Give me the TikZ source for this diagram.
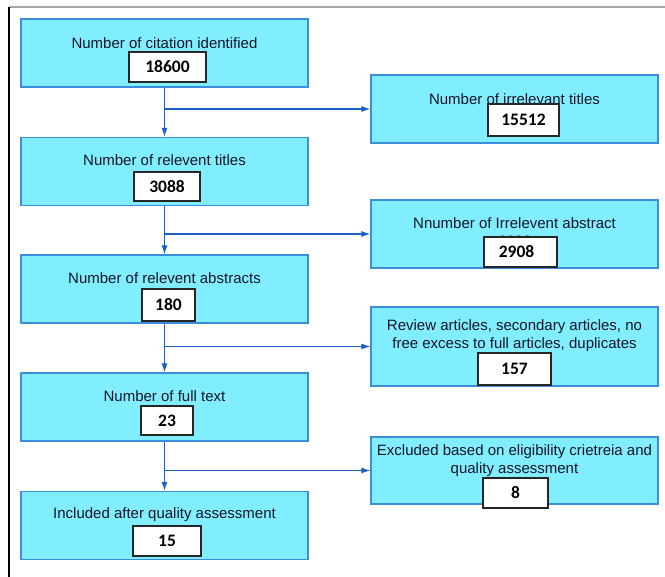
\documentclass[tikz,border=0pt]{standalone}
\usepackage{fontspec}
\setmainfont{Liberation Sans}
\newfontfamily\numfont{Carlito}
\usetikzlibrary{arrows.meta}
\definecolor{boxfill}{HTML}{80EEFF}
\definecolor{boxline}{HTML}{3C8EDC}
\definecolor{arrline}{HTML}{1A5FC8}
\definecolor{txt}{HTML}{15152A}
\tikzset{
  mainbox/.style={draw=boxline, fill=boxfill, line width=1.3pt, minimum width=287pt, minimum height=68pt, inner sep=0pt},
  lbl/.style={font=\fontsize{15}{17.5}\selectfont, text=txt, inner sep=0pt, align=center},
  numbox/.style={draw=black!85, fill=white, line width=1.3pt, inner sep=0pt, font=\numfont\bfseries\fontsize{17.5}{18}\selectfont, text=black},
  arr/.style={draw=arrline, line width=1.1pt, -{Latex[length=9pt,width=6pt]}}
}
\begin{document}
\begin{tikzpicture}[x=1pt,y=-1pt]
\useasboundingbox (0,0) rectangle (665,577);
\draw[gray!70, line width=1.2pt] (9,7) -- (665,7);
\draw[black, line width=1.2pt] (9,7) -- (9,577);
% left column
\node[mainbox] (b1) at (164.5,53) {};
\node[lbl] (t1) at (164.5,43) {Number of citation identified};
\node[numbox, minimum width=77pt, minimum height=30pt] (n1) at (167.5,67) {18600};
\node[mainbox] (b2) at (164.5,171.5) {};
\node[lbl] (t2) at (164.5,160) {Number of relevent titles};
\node[numbox, minimum width=66pt, minimum height=29pt] (n2) at (167,186.5) {3088};
\node[mainbox] (b3) at (164.5,289) {};
\node[lbl] (t3) at (164.5,278) {Number of relevent abstracts};
\node[numbox, minimum width=53pt, minimum height=32pt] (n3) at (168.5,305) {180};
\node[mainbox] (b4) at (164.5,407) {};
\node[lbl] (t4) at (164.5,396) {Number of full text};
\node[numbox, minimum width=52pt, minimum height=29pt] (n4) at (167,420.5) {23};
\node[mainbox] (b5) at (164.5,525.5) {};
\node[lbl] (t5) at (164.5,515) {Included after quality assessment};
\node[numbox, minimum width=68pt, minimum height=30pt] (n5) at (167,541) {15};
% right column
\node[mainbox] (r1) at (514.5,109) {};
\node[lbl] (s1) at (514.5,99) {Number of irrelevant titles};
\node[numbox, minimum width=71pt, minimum height=32pt] (m1) at (523.5,120) {15512};
\node[mainbox] (r2) at (514.5,234) {};
\node[lbl] (s2) at (514.5,223) {Nnumber of Irrelevent abstract};
\node[lbl] (s2h) at (515,241) {2908};
\node[numbox, minimum width=73pt, minimum height=30pt] (m2) at (520.5,252) {\hspace*{-8pt}2908};
\node[mainbox, minimum height=79pt] (r3) at (514.5,346.5) {};
\node[lbl] (s3) at (514.5,335.5) {Review articles, secondary articles, no\\free excess to full articles, duplicates};
\node[numbox, minimum width=73pt, minimum height=32pt] (m3) at (514.5,369) {157};
\node[mainbox, minimum height=67pt] (r4) at (514.5,470.5) {};
\node[lbl] (s4) at (514.5,460.5) {Excluded based on eligibility crietreia and\\quality assessment};
\node[numbox, minimum width=65pt, minimum height=30pt] (m4) at (515.5,493) {8};
% connectors
\draw[arr] (b1.south) -- (b2.north);
\draw[arr] (b2.south) -- (b3.north);
\draw[arr] (b3.south) -- (b4.north);
\draw[arr] (b4.south) -- (b5.north);
\draw[arr] (b1.south |- r1.west) -- (r1.west);
\draw[arr] (b2.south |- r2.west) -- (r2.west);
\draw[arr] (b3.south |- r3.west) -- (r3.west);
\draw[arr] (b4.south |- r4.west) -- (r4.west);
\end{tikzpicture}
\end{document}
